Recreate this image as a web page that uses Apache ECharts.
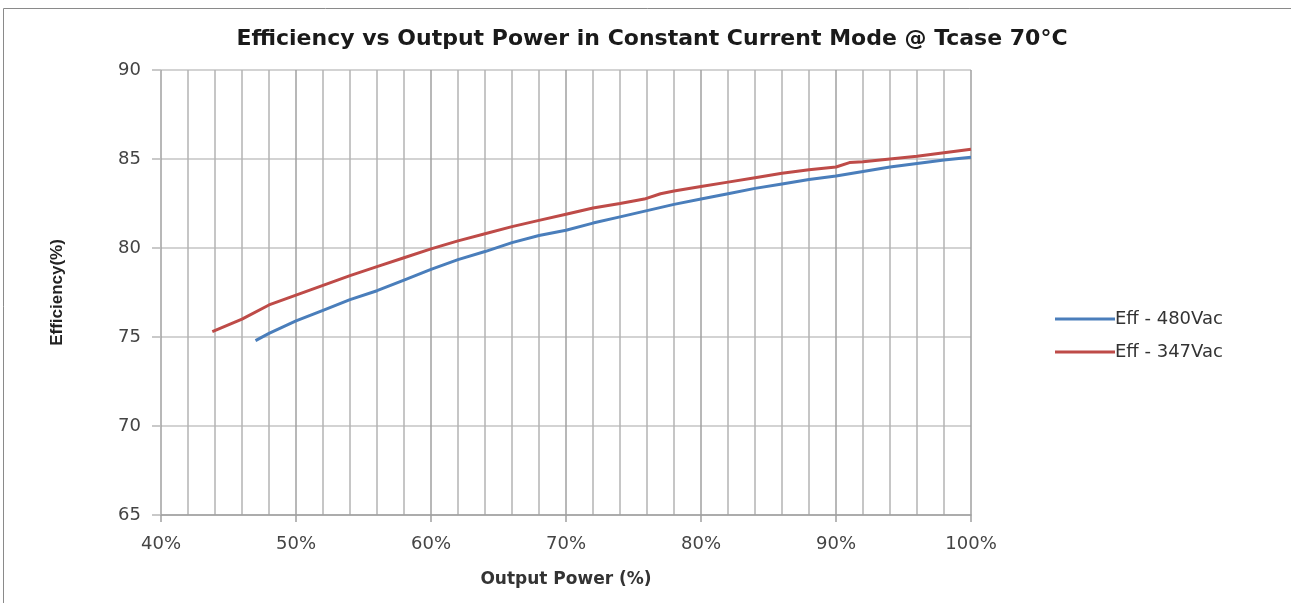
<!DOCTYPE html>
<html>
<head>
<meta charset="utf-8">
<script src="https://cdn.jsdelivr.net/npm/echarts@6/dist/echarts.min.js"></script>
<style>
  html, body { margin: 0; padding: 0; background: #fff; }
  #chart { width: 1291px; height: 603px; }
</style>
</head>
<body>
<div id="chart"></div>
<script>
// output power (%) and efficiency (%)
const power480 = [47, 48, 50, 52, 54, 56, 58, 60, 62, 64, 66, 68, 70, 72, 74, 76, 78, 80, 82, 84, 86, 88, 90, 92, 94, 96, 98, 100];
const eff480 = [74.8, 75.2, 75.9, 76.5, 77.1, 77.6, 78.2, 78.8, 79.35, 79.8, 80.3, 80.7, 81.0, 81.4, 81.75, 82.1, 82.45, 82.75, 83.05, 83.35, 83.6, 83.85, 84.05, 84.3, 84.55, 84.75, 84.95, 85.1];

const power347 = [43.8, 46, 48, 50, 52, 54, 56, 58, 60, 62, 64, 66, 68, 70, 72, 74, 75.8, 77, 78, 80, 82, 84, 86, 88, 90, 91, 92, 94, 96, 98, 100];
const eff347 = [75.3, 76.0, 76.8, 77.35, 77.9, 78.45, 78.95, 79.45, 79.95, 80.4, 80.8, 81.2, 81.55, 81.9, 82.25, 82.5, 82.75, 83.05, 83.2, 83.45, 83.7, 83.95, 84.2, 84.4, 84.55, 84.8, 84.85, 85.0, 85.15, 85.35, 85.55];

const seriesNames = ['Eff - 480Vac', 'Eff - 347Vac'];

const zip = (xs, ys) => xs.map((x, i) => [x, ys[i]]);

const chart = echarts.init(document.getElementById('chart'), null, { renderer: 'canvas' });

chart.setOption({
  animation: false,
  title: {
    text: 'Efficiency vs Output Power in Constant Current Mode @ Tcase 70°C',
    left: 647,
    textAlign: 'center',
    top: 23,
    textStyle: { fontFamily: 'DejaVu Sans', fontSize: 22, fontWeight: 'bold', color: '#1a1a1a' }
  },
  graphic: [{
    type: 'rect',
    shape: { x: 3.5, y: 8.5, width: 1300, height: 620 },
    style: { fill: 'none', stroke: '#8a8a8a', lineWidth: 1 }
  }],
  legend: {
    orient: 'vertical',
    left: 1050,
    top: 305,
    itemWidth: 60,
    itemHeight: 17,
    itemGap: 15,
    data: seriesNames.map(n => ({ name: n, icon: 'path://M0,0 L60,0 L60,3 L0,3 Z' })),
    textStyle: { fontFamily: 'DejaVu Sans', fontSize: 18, color: '#333', padding: [0, 0, 0, -5] }
  },
  grid: { left: 161, right: 320, top: 70, bottom: 88 },
  xAxis: {
    type: 'value',
    min: 40, max: 100, interval: 10,
    name: 'Output Power (%)',
    nameLocation: 'middle',
    nameGap: 56,
    nameTextStyle: { fontFamily: 'DejaVu Sans', fontSize: 17, fontWeight: 'bold', color: '#333' },
    axisLine: { show: true, lineStyle: { color: '#a0a0a0', width: 1.5 } },
    axisTick: { show: true, length: 7, lineStyle: { color: '#a0a0a0', width: 1.5 } },
    minorTick: { show: false, splitNumber: 5 },
    axisLabel: { formatter: '{value}%', margin: 20, fontFamily: 'DejaVu Sans', fontSize: 18, color: '#444' },
    splitLine: { show: true, lineStyle: { color: '#a0a0a0', width: 1.5 } },
    minorSplitLine: { show: true, lineStyle: { color: '#b4b4b4', width: 1.5 } }
  },
  yAxis: {
    type: 'value',
    min: 65, max: 90, interval: 5,
    name: 'Efficiency(%)',
    nameLocation: 'middle',
    nameGap: 95,
    nameTextStyle: { fontFamily: 'Liberation Sans', fontSize: 17, fontWeight: 'bold', color: '#222' },
    axisLine: { show: false },
    axisTick: { show: true, length: 9, lineStyle: { color: '#b8b8b8', width: 1.5 } },
    axisLabel: { margin: 20, fontFamily: 'DejaVu Sans', fontSize: 18, color: '#444' },
    splitLine: { show: true, lineStyle: { color: '#c4c4c4', width: 1.5 } }
  },
  series: [
    {
      name: seriesNames[0],
      type: 'line',
      showSymbol: false,
      data: zip(power480, eff480),
      lineStyle: { color: '#4a7ebb', width: 3 },
      itemStyle: { color: '#4a7ebb' }
    },
    {
      name: seriesNames[1],
      type: 'line',
      showSymbol: false,
      data: zip(power347, eff347),
      lineStyle: { color: '#be4b48', width: 3 },
      itemStyle: { color: '#be4b48' }
    }
  ]
});
</script>
</body>
</html>
